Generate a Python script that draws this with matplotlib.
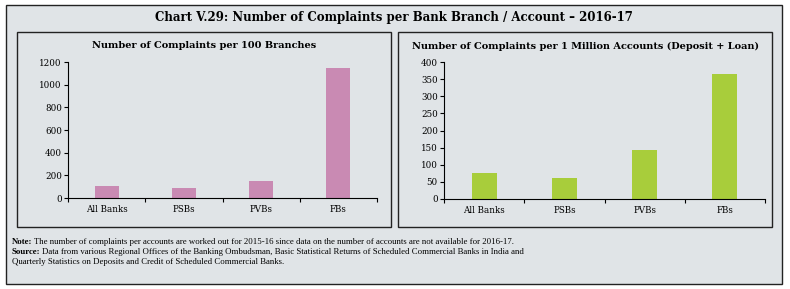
import matplotlib.pyplot as plt
from matplotlib.patches import Rectangle
from matplotlib.ticker import FixedLocator, NullFormatter
from matplotlib.transforms import offset_copy
import numpy as np

plt.rcParams['font.family'] = ['Liberation Serif', 'DejaVu Serif']

categories = ["All Banks", "PSBs", "PVBs", "FBs"]
per_100_branches = [108, 91, 146, 1144]
per_million_accounts = [76, 62, 144, 365]

bg = '#e0e4e7'
pink = '#c98ab3'
green = '#a8cd3b'

W, H = 790, 289
fig = plt.figure(figsize=(W / 100, H / 100), dpi=100)
fig.patch.set_facecolor('white')


def px_box(x0, y0, x1, y1, **kw):
    """Rectangle given in pixel coords (top-left origin)."""
    r = Rectangle((x0 / W, 1 - y1 / H), (x1 - x0) / W, (y1 - y0) / H,
                  transform=fig.transFigure, zorder=-5, **kw)
    fig.add_artist(r)


# outer frame and panel boxes
px_box(6, 5, 782, 284, facecolor=bg, edgecolor='#222222', lw=1.0)
px_box(17, 32, 391, 227, facecolor='none', edgecolor='#222222', lw=1.0)
px_box(398, 32, 772, 227, facecolor='none', edgecolor='#222222', lw=1.0)

fig.text(394 / W, 1 - 18 / H, "Chart V.29: Number of Complaints per Bank Branch / Account \u2013 2016-17",
         ha='center', va='center', fontsize=8.5, fontweight='bold', family='DejaVu Serif')
fig.text(204 / W, 1 - 46 / H, "Number of Complaints per 100 Branches",
         ha='center', va='center', fontsize=7, fontweight='bold', family='DejaVu Serif')
fig.text(585 / W, 1 - 46 / H, "Number of Complaints per 1 Million Accounts (Deposit + Loan)",
         ha='center', va='center', fontsize=7, fontweight='bold', family='DejaVu Serif')


def panel(rect, values, color, ymax, step):
    ax = fig.add_axes(rect)
    ax.set_facecolor('none')
    x = np.arange(len(categories))
    ax.bar(x, values, width=0.31, color=color)
    ax.set_xlim(-0.5, len(categories) - 0.5)
    ax.set_ylim(0, ymax)
    ax.set_yticks(np.arange(0, ymax + 1, step))
    ax.xaxis.set_major_locator(FixedLocator(np.arange(-0.5, len(categories), 1.0)))
    ax.xaxis.set_major_formatter(NullFormatter())
    ax.xaxis.set_minor_locator(FixedLocator(x))
    ax.set_xticklabels(categories, minor=True)
    ax.tick_params(axis='x', which='minor', length=0, labelsize=6.3, pad=5)
    ax.tick_params(axis='x', which='major', length=3, width=0.8)
    ax.tick_params(axis='y', length=3, width=0.8, labelsize=6.3, pad=1.5)
    for lab in ax.get_xticklabels(minor=True) + ax.get_yticklabels():
        lab.set_family('DejaVu Serif')
    for s in ('top', 'right'):
        ax.spines[s].set_visible(False)
    for s in ('left', 'bottom'):
        ax.spines[s].set_linewidth(0.8)
    return ax


panel([68 / W, 1 - 198 / H, 309 / W, 136 / H], per_100_branches, pink, 1200, 200)
panel([444 / W, 1 - 199 / H, 321 / W, 137 / H], per_million_accounts, green, 400, 50)

note_fs = 6.3
renderer = fig.canvas.get_renderer()


def labelled_line(y_px, bold, rest):
    t = fig.text(12 / W, 1 - y_px / H, bold, ha='left', va='center',
                 fontsize=note_fs, fontweight='bold')
    w = t.get_window_extent(renderer).width
    tr = offset_copy(fig.transFigure, fig=fig, x=w + 2, y=0, units='dots')
    fig.text(12 / W, 1 - y_px / H, rest, ha='left', va='center',
             fontsize=note_fs, transform=tr)


labelled_line(241.5, "Note:",
              "The number of complaints per accounts are worked out for 2015-16 since data on the number of accounts are not available for 2016-17.")
labelled_line(252, "Source:",
              "Data from various Regional Offices of the Banking Ombudsman, Basic Statistical Returns of Scheduled Commercial Banks in India and")
fig.text(12 / W, 1 - 262.5 / H,
         "Quarterly Statistics on Deposits and Credit of Scheduled Commercial Banks.",
         ha='left', va='center', fontsize=note_fs)

fig.savefig('out.png', dpi=100)
